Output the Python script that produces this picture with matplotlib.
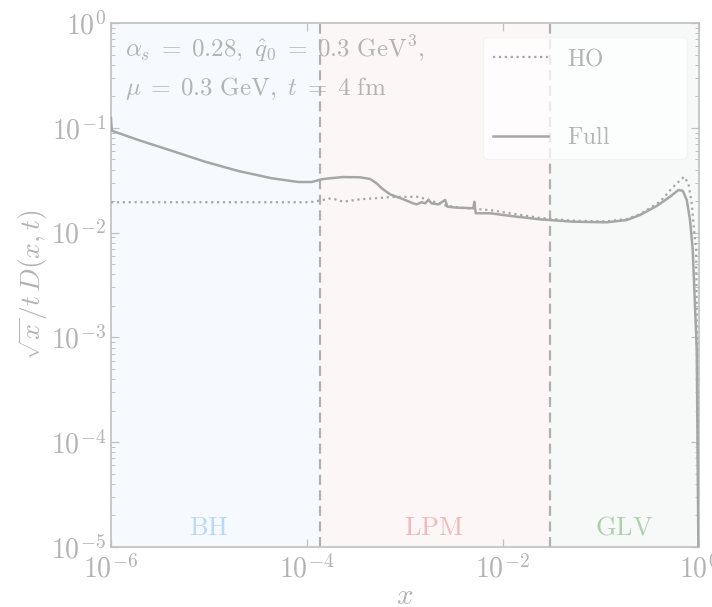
import math
import matplotlib
matplotlib.use("Agg")
import matplotlib.pyplot as plt
from matplotlib.ticker import FixedLocator, FuncFormatter, LogLocator, NullFormatter

plt.rcParams['mathtext.fontset'] = 'cm'
plt.rcParams['font.family'] = ['DejaVu Serif']

# ---- data ----
full_x = [1.0e-6, 1.02e-6, 1.90e-6, 4.17e-6, 9.12e-6, 2.00e-5, 4.38e-5, 8.19e-5, 1.12e-4,
          1.42e-4, 1.72e-4, 2.35e-4, 3.49e-4, 4.42e-4, 5.16e-4, 5.81e-4, 7.06e-4, 9.66e-4,
          1.22e-3, 1.32e-3, 1.49e-3, 1.61e-3, 1.74e-3, 1.88e-3, 2.20e-3, 2.58e-3, 2.72e-3,
          3.39e-3, 5.01e-3, 5.13e-3, 5.30e-3, 7.41e-3, 0.01334, 0.0240, 0.0522, 0.1153,
          0.1845, 0.2523, 0.3733, 0.5105, 0.621, 0.689, 0.757, 0.817, 0.871, 0.957,
          0.9938, 0.997]
full_y = [0.124, 0.0938, 0.0765, 0.0604, 0.0475, 0.0387, 0.0330, 0.0304, 0.0304,
          0.0323, 0.0330, 0.0339, 0.0337, 0.0325, 0.0295, 0.0265, 0.0232, 0.0208,
          0.0190, 0.0186, 0.0195, 0.0190, 0.0205, 0.0190, 0.0186, 0.0205, 0.0177,
          0.0173, 0.0171, 0.0197, 0.0153, 0.0153, 0.01425, 0.01339, 0.01271, 0.01254,
          0.01318, 0.01472, 0.01795, 0.02202, 0.02548, 0.02510, 0.02047, 0.01318, 0.00682, 0.000759,
          1.17e-5, 1e-6]

ho_x = [1.0e-6, 1.08e-4, 1.47e-4, 1.66e-4, 1.94e-4, 2.35e-4, 3.49e-4, 7.64e-4, 1.32e-3,
        1.67e-3, 2.47e-3, 3.66e-3, 7.41e-3, 0.0240, 0.0522, 0.1153, 0.1845, 0.2523,
        0.4036, 0.552, 0.710, 0.785, 0.851, 0.897, 0.942, 0.975, 0.9938, 0.997]
ho_y = [0.0195, 0.0195, 0.0205, 0.0212, 0.0208, 0.0197, 0.0208, 0.0219, 0.0220,
        0.0209, 0.0183, 0.0173, 0.0164, 0.0138, 0.0130, 0.0128, 0.0135, 0.0150,
        0.01972, 0.02742, 0.03412, 0.02953, 0.01904, 0.01059, 0.00682, 0.000253, 1.17e-5, 1e-6]

region_edges = [1e-6, 1.36e-4, 0.0304, 1.0]
region_names = ['BH', 'LPM', 'GLV']
region_label_x = [1.0e-5, 2.0e-3, 0.172]
region_bg = ['#f6faff', '#fcf7f6', '#f7f9f8']
region_fg = ['#b9d9f9', '#f2b9b9', '#acd2ac']

x_ticks = [1e-6, 1e-4, 1e-2, 1e0]
y_ticks = [1e-5, 1e-4, 1e-3, 1e-2, 1e-1, 1e0]

GRAY = '#b3b3b3'
LINE = '#a6a6a6'

fig = plt.figure(figsize=(7.12, 6.07), dpi=100)
ax = fig.add_axes([0.1559, 0.0988, 0.9812 - 0.1559, 0.9621 - 0.0988])
ax.set_xscale('log')
ax.set_yscale('log')
ax.set_xlim(1e-6, 1e0)
ax.set_ylim(1e-5, 1e0)

for i in range(3):
    ax.axvspan(region_edges[i], region_edges[i + 1], color=region_bg[i], zorder=0, lw=0)
    ax.text(region_label_x[i], 1.55e-5, r'$\mathrm{%s}$' % region_names[i], color=region_fg[i],
            fontsize=19, ha='center', va='center', zorder=1)

for xv in region_edges[1:3]:
    ax.axvline(xv, color='#b0b0b0', lw=1.6, ls=(0, (4.5, 2.5)), zorder=2)

ax.plot(ho_x, ho_y, color=LINE, lw=1.6, ls=':', label=r'$\mathrm{HO}$', zorder=3)
ax.plot(full_x, full_y, color=LINE, lw=1.8, ls='-', label=r'$\mathrm{Full}$', zorder=3)

ax.text(0.024, 0.935, r'$\alpha_s\;=\;0.28,\ \hat{q}_0\;=\;0.3\ \mathrm{GeV}^3,$',
        transform=ax.transAxes, fontsize=18, color=GRAY, ha='left', va='baseline')
ax.text(0.024, 0.862, r'$\mu\;=\;0.3\ \mathrm{GeV},\ t\;=\;4\ \mathrm{fm}$',
        transform=ax.transAxes, fontsize=18, color=GRAY, ha='left', va='baseline')

leg = ax.legend(loc='upper right', fontsize=17, labelspacing=2.38, handlelength=2.33,
                handletextpad=0.8, borderpad=0.42, borderaxespad=0, framealpha=0.75,
                edgecolor='#f2f2f2', fancybox=True, mode='expand',
                bbox_to_anchor=(0.633, 0.5, 0.347, 0.473))
for t in leg.get_texts():
    t.set_color(GRAY)
leg.set_zorder(5)

ax.xaxis.set_major_locator(FixedLocator(x_ticks))
ax.xaxis.set_minor_locator(FixedLocator([]))
ax.yaxis.set_major_locator(FixedLocator(y_ticks))
ax.yaxis.set_minor_locator(LogLocator(base=10, subs=range(2, 10), numticks=20))
ax.yaxis.set_minor_formatter(NullFormatter())
fmt = FuncFormatter(lambda v, p: r'$10^{%d}$' % round(math.log10(v)))
ax.xaxis.set_major_formatter(fmt)
ax.yaxis.set_major_formatter(fmt)

ax.tick_params(which='both', direction='in', top=True, right=True, colors='#c0c0c0',
               labelcolor=GRAY, labelsize=20)
ax.tick_params(which='major', length=6, width=0.9)
ax.tick_params(which='minor', length=3, width=0.7)
ax.tick_params(axis='x', pad=6)
for s in ax.spines.values():
    s.set_color('#c0c0c0')
    s.set_linewidth(1.2)

ax.set_xlabel(r'$x$', fontsize=21, color=GRAY)
ax.xaxis.set_label_coords(0.5, -0.067)
ax.set_ylabel(r'$\sqrt{x}/t\,D(x,t)$', fontsize=20, color=GRAY)
ax.yaxis.set_label_coords(-0.103, 0.5)

fig.savefig('out.png', dpi=100)
